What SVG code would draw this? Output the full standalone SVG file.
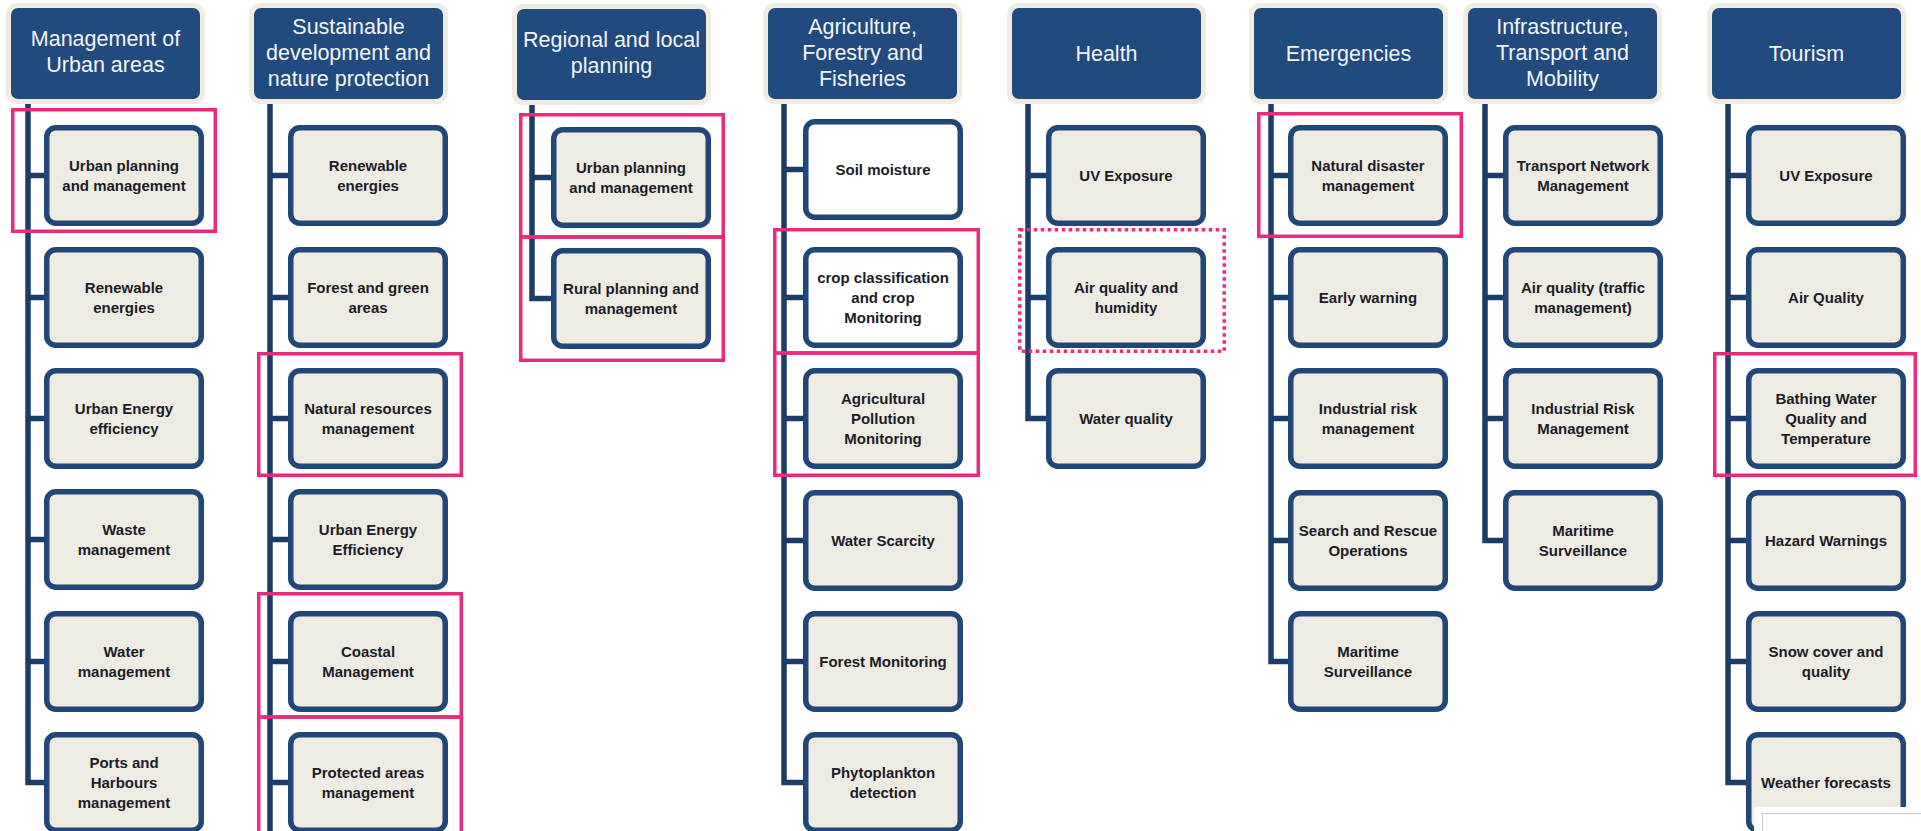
<svg xmlns="http://www.w3.org/2000/svg" width="1921" height="831" viewBox="0 0 1921 831">
<style>
.glow{fill:#efece2}
.hdr{fill:#214a7e}
.ht{font-family:"Liberation Sans",Arial,sans-serif;font-size:21.5px;fill:#f4f4f4;text-anchor:middle}
.box{fill:#eeece2;stroke:#1f477a;stroke-width:5.5}
.wbox{fill:#ffffff;stroke:#1f477a;stroke-width:5.5}
.t{font-family:"Liberation Sans",Arial,sans-serif;font-size:15px;font-weight:bold;fill:#1c1c28;text-anchor:middle}
.con{fill:none;stroke:#1b3b68;stroke-width:5.5}
.hl{fill:none;stroke:#ec2a7b;stroke-width:3.5}
.hld{fill:none;stroke:#ec2a7b;stroke-width:3.5;stroke-dasharray:3.5 3.5}
</style>
<rect width="1921" height="831" fill="#ffffff"/>

<g id="connectors">
<path class="con" d="M28 101V782.5H44M28 175.5H44M28 297.5H44M28 418.5H44M28 539.5H44M28 661.5H44"/>
<path class="con" d="M270 101V840M270 175.5H288M270 297.5H288M270 418.5H288M270 539.5H288M270 661.5H288M270 782.5H288"/>
<path class="con" d="M532 101V298.5H551M532 177.5H551"/>
<path class="con" d="M784 101V782.5H803M784 169.5H803M784 297.5H803M784 418.5H803M784 540.5H803M784 661.5H803"/>
<path class="con" d="M1028 101V418.5H1046M1028 175.5H1046M1028 297.5H1046"/>
<path class="con" d="M1271 101V661.5H1288M1271 175.5H1288M1271 297.5H1288M1271 418.5H1288M1271 540.5H1288"/>
<path class="con" d="M1485 101V540.5H1503M1485 175.5H1503M1485 297.5H1503M1485 418.5H1503"/>
<path class="con" d="M1728 101V782.5H1746M1728 175.5H1746M1728 297.5H1746M1728 418.5H1746M1728 540.5H1746M1728 661.5H1746"/>
</g>

<!-- Column 1 -->
<g id="h1"><rect class="glow" x="6" y="3" width="199" height="101" rx="11"/><rect class="hdr" x="11" y="8" width="189" height="91" rx="7"/><text class="ht" x="105.5"><tspan x="105.5" y="46">Management of</tspan><tspan x="105.5" y="72">Urban areas</tspan></text></g>
<g id="c1n1"><rect class="box" x="46.75" y="127.75" width="154.5" height="95.5" rx="9"/><text class="t"><tspan x="124" y="171">Urban planning</tspan><tspan x="124" y="191">and management</tspan></text></g>
<g id="c1n2"><rect class="box" x="46.75" y="249.75" width="154.5" height="95.5" rx="9"/><text class="t"><tspan x="124" y="293">Renewable</tspan><tspan x="124" y="313">energies</tspan></text></g>
<g id="c1n3"><rect class="box" x="46.75" y="370.75" width="154.5" height="95.5" rx="9"/><text class="t"><tspan x="124" y="414">Urban Energy</tspan><tspan x="124" y="434">efficiency</tspan></text></g>
<g id="c1n4"><rect class="box" x="46.75" y="491.75" width="154.5" height="95.5" rx="9"/><text class="t"><tspan x="124" y="535">Waste</tspan><tspan x="124" y="555">management</tspan></text></g>
<g id="c1n5"><rect class="box" x="46.75" y="613.75" width="154.5" height="95.5" rx="9"/><text class="t"><tspan x="124" y="657">Water</tspan><tspan x="124" y="677">management</tspan></text></g>
<g id="c1n6"><rect class="box" x="46.75" y="734.75" width="154.5" height="95.5" rx="9"/><text class="t"><tspan x="124" y="768">Ports and</tspan><tspan x="124" y="788">Harbours</tspan><tspan x="124" y="808">management</tspan></text></g>

<!-- Column 2 -->
<g id="h2"><rect class="glow" x="249" y="3" width="199" height="101" rx="11"/><rect class="hdr" x="254" y="8" width="189" height="91" rx="7"/><text class="ht"><tspan x="348.5" y="34">Sustainable</tspan><tspan x="348.5" y="60">development and</tspan><tspan x="348.5" y="86">nature protection</tspan></text></g>
<g id="c2n1"><rect class="box" x="290.75" y="127.75" width="154.5" height="95.5" rx="9"/><text class="t"><tspan x="368" y="171">Renewable</tspan><tspan x="368" y="191">energies</tspan></text></g>
<g id="c2n2"><rect class="box" x="290.75" y="249.75" width="154.5" height="95.5" rx="9"/><text class="t"><tspan x="368" y="293">Forest and green</tspan><tspan x="368" y="313">areas</tspan></text></g>
<g id="c2n3"><rect class="box" x="290.75" y="370.75" width="154.5" height="95.5" rx="9"/><text class="t"><tspan x="368" y="414">Natural resources</tspan><tspan x="368" y="434">management</tspan></text></g>
<g id="c2n4"><rect class="box" x="290.75" y="491.75" width="154.5" height="95.5" rx="9"/><text class="t"><tspan x="368" y="535">Urban Energy</tspan><tspan x="368" y="555">Efficiency</tspan></text></g>
<g id="c2n5"><rect class="box" x="290.75" y="613.75" width="154.5" height="95.5" rx="9"/><text class="t"><tspan x="368" y="657">Coastal</tspan><tspan x="368" y="677">Management</tspan></text></g>
<g id="c2n6"><rect class="box" x="290.75" y="734.75" width="154.5" height="95.5" rx="9"/><text class="t"><tspan x="368" y="778">Protected areas</tspan><tspan x="368" y="798">management</tspan></text></g>

<!-- Column 3 -->
<g id="h3"><rect class="glow" x="512" y="4" width="199" height="101" rx="11"/><rect class="hdr" x="517" y="9" width="189" height="91" rx="7"/><text class="ht"><tspan x="611.5" y="47">Regional and local</tspan><tspan x="611.5" y="73">planning</tspan></text></g>
<g id="c3n1"><rect class="box" x="553.75" y="129.75" width="154.5" height="95.5" rx="9"/><text class="t"><tspan x="631" y="173">Urban planning</tspan><tspan x="631" y="193">and management</tspan></text></g>
<g id="c3n2"><rect class="box" x="553.75" y="250.75" width="154.5" height="95.5" rx="9"/><text class="t"><tspan x="631" y="294">Rural planning and</tspan><tspan x="631" y="314">management</tspan></text></g>

<!-- Column 4 -->
<g id="h4"><rect class="glow" x="763" y="3" width="199" height="101" rx="11"/><rect class="hdr" x="768" y="8" width="189" height="91" rx="7"/><text class="ht"><tspan x="862.5" y="34">Agriculture,</tspan><tspan x="862.5" y="60">Forestry and</tspan><tspan x="862.5" y="86">Fisheries</tspan></text></g>
<g id="c4n1"><rect class="wbox" x="805.75" y="121.75" width="154.5" height="95.5" rx="9"/><text class="t"><tspan x="883" y="175">Soil moisture</tspan></text></g>
<g id="c4n2"><rect class="wbox" x="805.75" y="249.75" width="154.5" height="95.5" rx="9"/><text class="t"><tspan x="883" y="283">crop classification</tspan><tspan x="883" y="303">and crop</tspan><tspan x="883" y="323">Monitoring</tspan></text></g>
<g id="c4n3"><rect class="box" x="805.75" y="370.75" width="154.5" height="95.5" rx="9"/><text class="t"><tspan x="883" y="404">Agricultural</tspan><tspan x="883" y="424">Pollution</tspan><tspan x="883" y="444">Monitoring</tspan></text></g>
<g id="c4n4"><rect class="box" x="805.75" y="492.75" width="154.5" height="95.5" rx="9"/><text class="t"><tspan x="883" y="546">Water Scarcity</tspan></text></g>
<g id="c4n5"><rect class="box" x="805.75" y="613.75" width="154.5" height="95.5" rx="9"/><text class="t"><tspan x="883" y="667">Forest Monitoring</tspan></text></g>
<g id="c4n6"><rect class="box" x="805.75" y="734.75" width="154.5" height="95.5" rx="9"/><text class="t"><tspan x="883" y="778">Phytoplankton</tspan><tspan x="883" y="798">detection</tspan></text></g>

<!-- Column 5 -->
<g id="h5"><rect class="glow" x="1007" y="3" width="199" height="101" rx="11"/><rect class="hdr" x="1012" y="8" width="189" height="91" rx="7"/><text class="ht"><tspan x="1106.5" y="61">Health</tspan></text></g>
<g id="c5n1"><rect class="box" x="1048.75" y="127.75" width="154.5" height="95.5" rx="9"/><text class="t"><tspan x="1126" y="181">UV Exposure</tspan></text></g>
<g id="c5n2"><rect class="box" x="1048.75" y="249.75" width="154.5" height="95.5" rx="9"/><text class="t"><tspan x="1126" y="293">Air quality and</tspan><tspan x="1126" y="313">humidity</tspan></text></g>
<g id="c5n3"><rect class="box" x="1048.75" y="370.75" width="154.5" height="95.5" rx="9"/><text class="t"><tspan x="1126" y="424">Water quality</tspan></text></g>

<!-- Column 6 -->
<g id="h6"><rect class="glow" x="1249" y="3" width="199" height="101" rx="11"/><rect class="hdr" x="1254" y="8" width="189" height="91" rx="7"/><text class="ht"><tspan x="1348.5" y="61">Emergencies</tspan></text></g>
<g id="c6n1"><rect class="box" x="1290.75" y="127.75" width="154.5" height="95.5" rx="9"/><text class="t"><tspan x="1368" y="171">Natural disaster</tspan><tspan x="1368" y="191">management</tspan></text></g>
<g id="c6n2"><rect class="box" x="1290.75" y="249.75" width="154.5" height="95.5" rx="9"/><text class="t"><tspan x="1368" y="303">Early warning</tspan></text></g>
<g id="c6n3"><rect class="box" x="1290.75" y="370.75" width="154.5" height="95.5" rx="9"/><text class="t"><tspan x="1368" y="414">Industrial risk</tspan><tspan x="1368" y="434">management</tspan></text></g>
<g id="c6n4"><rect class="box" x="1290.75" y="492.75" width="154.5" height="95.5" rx="9"/><text class="t"><tspan x="1368" y="536">Search and Rescue</tspan><tspan x="1368" y="556">Operations</tspan></text></g>
<g id="c6n5"><rect class="box" x="1290.75" y="613.75" width="154.5" height="95.5" rx="9"/><text class="t"><tspan x="1368" y="657">Maritime</tspan><tspan x="1368" y="677">Surveillance</tspan></text></g>

<!-- Column 7 -->
<g id="h7"><rect class="glow" x="1463" y="3" width="199" height="101" rx="11"/><rect class="hdr" x="1468" y="8" width="189" height="91" rx="7"/><text class="ht"><tspan x="1562.5" y="34">Infrastructure,</tspan><tspan x="1562.5" y="60">Transport and</tspan><tspan x="1562.5" y="86">Mobility</tspan></text></g>
<g id="c7n1"><rect class="box" x="1505.75" y="127.75" width="154.5" height="95.5" rx="9"/><text class="t"><tspan x="1583" y="171">Transport Network</tspan><tspan x="1583" y="191">Management</tspan></text></g>
<g id="c7n2"><rect class="box" x="1505.75" y="249.75" width="154.5" height="95.5" rx="9"/><text class="t"><tspan x="1583" y="293">Air quality (traffic</tspan><tspan x="1583" y="313">management)</tspan></text></g>
<g id="c7n3"><rect class="box" x="1505.75" y="370.75" width="154.5" height="95.5" rx="9"/><text class="t"><tspan x="1583" y="414">Industrial Risk</tspan><tspan x="1583" y="434">Management</tspan></text></g>
<g id="c7n4"><rect class="box" x="1505.75" y="492.75" width="154.5" height="95.5" rx="9"/><text class="t"><tspan x="1583" y="536">Maritime</tspan><tspan x="1583" y="556">Surveillance</tspan></text></g>

<!-- Column 8 -->
<g id="h8"><rect class="glow" x="1707" y="3" width="199" height="101" rx="11"/><rect class="hdr" x="1712" y="8" width="189" height="91" rx="7"/><text class="ht"><tspan x="1806.5" y="61">Tourism</tspan></text></g>
<g id="c8n1"><rect class="box" x="1748.75" y="127.75" width="154.5" height="95.5" rx="9"/><text class="t"><tspan x="1826" y="181">UV Exposure</tspan></text></g>
<g id="c8n2"><rect class="box" x="1748.75" y="249.75" width="154.5" height="95.5" rx="9"/><text class="t"><tspan x="1826" y="303">Air Quality</tspan></text></g>
<g id="c8n3"><rect class="box" x="1748.75" y="370.75" width="154.5" height="95.5" rx="9"/><text class="t"><tspan x="1826" y="404">Bathing Water</tspan><tspan x="1826" y="424">Quality and</tspan><tspan x="1826" y="444">Temperature</tspan></text></g>
<g id="c8n4"><rect class="box" x="1748.75" y="492.75" width="154.5" height="95.5" rx="9"/><text class="t"><tspan x="1826" y="546">Hazard Warnings</tspan></text></g>
<g id="c8n5"><rect class="box" x="1748.75" y="613.75" width="154.5" height="95.5" rx="9"/><text class="t"><tspan x="1826" y="657">Snow cover and</tspan><tspan x="1826" y="677">quality</tspan></text></g>
<g id="c8n6"><rect class="box" x="1748.75" y="734.75" width="154.5" height="95.5" rx="9"/><text class="t"><tspan x="1826" y="788">Weather forecasts</tspan></text></g>

<!-- Highlight frames -->
<g id="highlights">
<rect class="hl" x="12.75" y="109.75" width="202.5" height="121.5"/>
<rect class="hl" x="258.75" y="353.75" width="202.5" height="121.5"/>
<rect class="hl" x="258.75" y="593.75" width="202.5" height="123.25"/>
<rect class="hl" x="258.75" y="717" width="202.5" height="125"/>
<rect class="hl" x="520.75" y="114.75" width="202.5" height="122.25"/>
<rect class="hl" x="520.75" y="237" width="202.5" height="123.25"/>
<rect class="hl" x="774.75" y="229.75" width="203.5" height="123.25"/>
<rect class="hl" x="774.75" y="353" width="203.5" height="122.25"/>
<rect class="hld" x="1019.75" y="229.75" width="204.5" height="121.5"/>
<rect class="hl" x="1258.75" y="113.75" width="202.5" height="122.5"/>
<rect class="hl" x="1714.75" y="353.75" width="200.5" height="121.5"/>
</g>

<g id="overlay">
<rect x="1754" y="807" width="180" height="40" fill="#ffffff"/>
<rect x="1762.5" y="813.5" width="180" height="40" fill="#ffffff" stroke="#c8c8c8" stroke-width="1"/>
</g>
</svg>
